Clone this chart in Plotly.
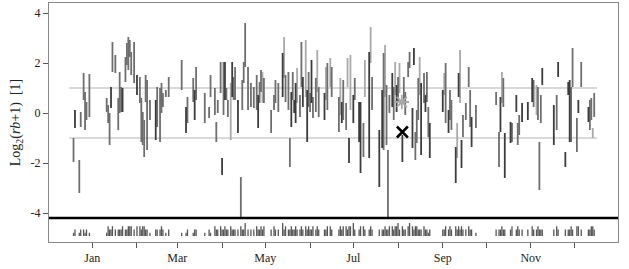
import plotly.graph_objects as go

# ---- data (day 0 = 1 Jan; negative = previous December) ----
day = [-13, -12, -9, -8, -6, -5, -4, -2, 10, 11, 12, 13, 14, 16, 18, 19, 20, 21, 23, 24,
       25, 26, 27, 29, 31, 33, 34, 35, 36, 37, 38, 40, 44, 45, 47, 48, 49, 51, 53, 62,
       65, 66, 70, 71, 72, 78, 81, 82, 85, 86, 87, 89, 90, 91, 92, 93, 94, 96, 97, 98,
       99, 101, 103, 104, 105, 106, 108, 110, 112, 114, 115, 116, 117, 118, 119, 124, 126, 127, 129, 132,
       133, 134, 136, 137, 138, 139, 140, 141, 142, 144, 145, 146, 148, 149, 150, 151, 152, 153, 155, 156,
       157, 161, 162, 163, 165, 166, 171, 172, 173, 174, 176, 177, 178, 179, 181, 182, 185, 186, 188, 189,
       192, 193, 194, 199, 201, 202, 203, 204, 205, 206, 208, 209, 210, 211, 212, 213, 215, 216, 217, 219,
       220, 222, 223, 224, 225, 226, 227, 228, 230, 231, 232, 233, 234, 243, 244, 245, 247, 248, 249, 252,
       253, 254, 255, 256, 257, 259, 261, 262, 263, 266, 280, 282, 283, 284, 285, 286, 290, 291, 294, 295,
       296, 298, 302, 305, 306, 308, 309, 310, 311, 312, 320, 322, 323, 328, 330, 331, 332, 333, 336, 337,
       339, 344, 345, 346, 347, 348]
low = [-1.96, -0.6, -3.2, -0.56, 0.52, -0.68, -0.28, -0.16, 0.04, -0.4, -1.28, 0.2, 1.64, 1.6, -0.68, 0.0, 0.04, 0.04, 1.24, 1.92,
       1.72, 2.24, 1.52, 1.2, 0.72, 0.4, -1.16, -1.28, -1.76, 0.44, -1.48, -0.28, -1.08, -0.56, -1.16, 0.0, 0.24, 0.64, 0.64, 0.92,
       -0.8, -0.4, 0.44, -0.28, 0.52, -0.4, -0.2, 0.64, -0.08, -1.16, 0.0, 0.8, -2.48, -0.08, 0.52, 0.52, -0.16, -1.08, 0.64, 0.52,
       0.52, -0.8, -4.16, 0.12, 1.2, 1.84, 0.12, 0.24, 0.2, 0.12, -0.6, 0.4, 0.84, 0.4, 0.4, -0.8, 0.12, 0.4, 0.04, 0.64,
       1.4, 0.44, 0.12, -2.16, -0.56, 0.52, 0.0, -0.4, 0.4, -0.16, 1.04, 0.24, 0.64, -1.16, 0.24, 0.04, 0.4, -0.2, 0.04, 0.84,
       -0.16, -0.28, 0.52, 0.12, 1.04, 0.64, -0.76, -0.08, -0.4, -0.28, -0.68, 1.04, -2.0, 0.12, -0.4, 0.52, -1.16, -2.4, -1.76, 0.64,
       -1.8, 2.0, 0.12, -2.96, -1.4, -1.48, 0.64, -1.28, -4.16, 0.0, 0.24, -0.28, 0.72, 0.04, 0.4, 0.8, -1.96, 0.4, -0.08, 1.44,
       1.8, -1.4, 1.92, -1.88, -1.2, -0.28, 0.72, -1.68, 0.4, 0.04, 0.44, -0.96, -1.8, 0.04, 0.72, -0.4, -0.8, -0.28, -0.68, -2.8,
       -1.8, 0.64, 0.4, -2.2, -0.96, -0.28, 1.04, -0.56, -1.36, -0.6, 0.32, -2.16, -0.76, 0.4, 0.24, -2.6, -1.2, -1.16, 0.04, -1.28,
       -0.88, -0.36, -0.28, 0.44, 0.24, -0.08, -0.28, -3.08, -0.4, 1.12, -1.28, -0.68, 1.44, -2.16, 0.72, -1.16, -1.16, 1.04, -1.56, 0.0,
       1.04, -0.36, -0.68, -0.28, -1.0, -0.16]
high = [-1.0, 0.12, -1.88, 0.04, 1.6, 0.84, 0.44, 1.56, 0.6, 0.32, 0.0, 1.04, 2.84, 2.32, 0.6, 1.64, 1.04, 1.0, 2.24, 2.8,
        3.04, 2.92, 2.44, 2.84, 1.52, 1.44, 0.6, 0.04, -0.28, 1.52, 1.32, 0.52, 0.52, 1.04, 1.0, 1.2, 0.8, 0.92, 1.44, 2.12,
        0.24, 0.64, 1.4, 0.92, 1.84, 0.8, 0.24, 1.52, 1.0, -0.36, 0.52, 2.04, -1.8, 2.04, 2.04, 1.0, 0.52, 1.2, 2.04, 1.44,
        1.84, 0.52, -2.56, 1.32, 2.04, 3.6, 1.84, 1.2, 1.04, 1.52, 0.72, 1.24, 1.72, 1.64, 1.4, 0.12, 0.72, 1.32, 1.2, 2.4,
        3.04, 1.52, 1.64, -1.0, 0.84, 1.64, 0.52, 1.2, 1.8, 0.72, 2.84, 1.44, 2.92, 0.92, 1.64, 0.8, 2.12, 0.64, 1.4, 2.52,
        1.04, 0.8, 1.84, 2.0, 2.2, 1.84, 0.64, 1.4, 0.44, 1.32, 0.4, 2.2, -1.0, 2.32, 0.72, 1.4, 0.44, 0.44, -0.4, 2.12,
        2.44, 3.44, 1.44, -0.68, 0.92, 2.4, 2.72, 1.12, -1.48, 0.72, 1.6, 1.04, 2.04, 1.12, 1.44, 2.0, -0.88, 1.44, 0.84, 2.04,
        2.44, 0.2, 2.6, -0.76, 0.12, 1.4, 2.24, 1.2, 1.6, 0.72, 1.64, 0.24, -0.4, 0.92, 1.6, 2.0, 0.12, 0.92, 0.52, -1.36,
        -0.4, 1.6, 2.52, -1.08, -0.08, 0.4, 1.84, 0.92, -0.16, 0.32, 0.84, -0.76, 0.64, 1.64, 1.4, -0.8, -0.36, -0.4, 0.72, -0.4,
        -0.08, 0.4, 0.44, 1.4, 1.32, 1.12, 1.04, -1.16, 0.72, 1.8, 0.32, 0.72, 2.04, -1.56, 1.24, 1.32, 1.04, 2.6, -0.2, 0.52,
        2.04, 0.24, 0.52, 0.6, -0.6, 0.8]
shade = list("mdmmmmmmmmmdmmmmmdmm" "mmmmdmmmmmmmdmmmmmmm" "dmmdmmmmmmmmdmdmmldm" "mdmmmmmmmmdmmlmmmmmd"
             "lmmmdmddlmmdldmmdmml" "mdlmlmmldmmldldmddml" "dlmddmlmmmdmldmldmmm" "mddmmmldmdmmddlmdmmd"
             "ldldmmmmdmmmdlmddmdm" "mdddmlmmmddmddddmmmd" "mdmmlm")
cnt = [1, 2, 1, 2, 2, 1, 2, 1, 1, 3, 2, 2, 3, 2, 2, 2, 2, 3, 2, 2, 3, 3, 3, 2, 3, 3, 2, 3, 3, 2, 2, 1,
       2, 2, 2, 3, 2, 1, 2, 1, 1, 2, 1, 2, 2, 1, 2, 1, 3, 2, 2, 3, 2, 2, 3, 2, 2, 3, 2, 2,
       2, 2, 3, 2, 2, 4, 2, 2, 2, 3, 2, 2, 3, 2, 3, 2, 3, 2, 2, 4, 2, 3, 2, 2, 3, 2, 2, 3, 2, 2,
       3, 2, 3, 2, 3, 2, 2, 3, 2, 3, 2, 2, 2, 3, 3, 2, 2, 3, 2, 3, 3, 2, 3, 3, 4, 2, 2, 3, 3, 2,
       2, 3, 2, 2, 2, 2, 3, 2, 2, 3, 3, 2, 3, 3, 4, 2, 3, 2, 2, 3, 4, 3, 2, 3, 3, 2, 2, 2, 3, 2,
       2, 1, 2, 2, 2, 3, 2, 3, 2, 3, 2, 3, 2, 3, 2, 2, 3, 2, 2, 1, 2, 2, 2, 3, 2, 2, 2, 3, 2, 3,
       2, 2, 2, 3, 2, 2, 3, 2, 2, 2, 2, 3, 2, 2, 2, 2, 3, 2, 3, 3, 2, 2, 2, 3, 3, 2]

marker_x_day, marker_x_val = 215, -0.76     # black cross
marker_s_day, marker_s_val = 214.6, 0.44    # grey asterisk
ref_levels = [1, -1]
ref_span = [-16, 350]
threshold = -4.2
strip_base = -4.92
strip_unit = 0.13

label_months = [0, 59, 120, 181, 243, 304]
label_text = ["Jan", "Mar", "May", "Jul", "Sep", "Nov"]
other_months = [31, 90, 151, 212, 273, 334]
yticks = [4, 2, 0, -2, -4]
ytext = ["4", "2", "0", "-2", "-4"]

n = min(len(day), len(low), len(high), len(shade), len(cnt))
colors = {"d": "#3c3c3c", "m": "#6e6e6e", "l": "#a9a9a9"}

fig = go.Figure()

for lv in ref_levels:
    fig.add_trace(go.Scatter(x=ref_span, y=[lv, lv], mode="lines",
                             line=dict(color="#cccccc", width=1.5), hoverinfo="skip"))

for key in ["l", "m", "d"]:
    xs, ys = [], []
    for i in range(n):
        if shade[i] == key:
            xs += [day[i], day[i], None]
            ys += [low[i], high[i], None]
    fig.add_trace(go.Scatter(x=xs, y=ys, mode="lines",
                             line=dict(color=colors[key], width=1.8), hoverinfo="skip"))

sx, sy = [], []
for i in range(n):
    sx += [day[i], day[i], None]
    sy += [strip_base, strip_base + strip_unit * cnt[i], None]
fig.add_trace(go.Scatter(x=sx, y=sy, mode="lines",
                         line=dict(color="#555555", width=1.3), hoverinfo="skip"))

fig.add_trace(go.Scatter(x=[marker_s_day], y=[marker_s_val], mode="markers",
                         marker=dict(symbol="asterisk-open", size=12, color="#a8a8a8",
                                     line=dict(color="#a8a8a8", width=1.8))))
fig.add_trace(go.Scatter(x=[marker_x_day], y=[marker_x_val], mode="markers",
                         marker=dict(symbol="x-thin-open", size=11, color="#000000",
                                     line=dict(color="#000000", width=2.5))))

fig.add_shape(type="line", xref="paper", x0=0, x1=1, yref="y", y0=threshold, y1=threshold,
              line=dict(color="black", width=2.5))

font = dict(family="Liberation Serif, Times New Roman, serif", size=12, color="#222")
title_font = dict(family="Liberation Serif, Times New Roman, serif", size=14, color="#222")
fig.update_layout(
    width=629, height=269, margin=dict(l=49, r=11, t=3, b=27),
    plot_bgcolor="white", paper_bgcolor="white", showlegend=False, font=font,
    xaxis=dict(range=[-30, 364.5], tickvals=label_months, ticktext=label_text,
               ticks="outside", ticklen=5, tickcolor="#555", showgrid=False, zeroline=False,
               showline=True, linecolor="#888", linewidth=1, mirror=True, tickfont=font,
               minor=dict(tickvals=other_months, ticks="outside", ticklen=5, tickcolor="#555",
                          showgrid=False)),
    yaxis=dict(range=[-5.16, 4.4], tickvals=yticks, ticktext=ytext,
               ticks="outside", ticklen=5, tickcolor="#555", showgrid=False, zeroline=False,
               showline=True, linecolor="#888", linewidth=1, mirror=True, tickfont=font,
               title=dict(text="Log<sub>2</sub>(<i>rb</i>+1)  [1]", font=title_font, standoff=6)),
)
fig.write_html("out.html")
